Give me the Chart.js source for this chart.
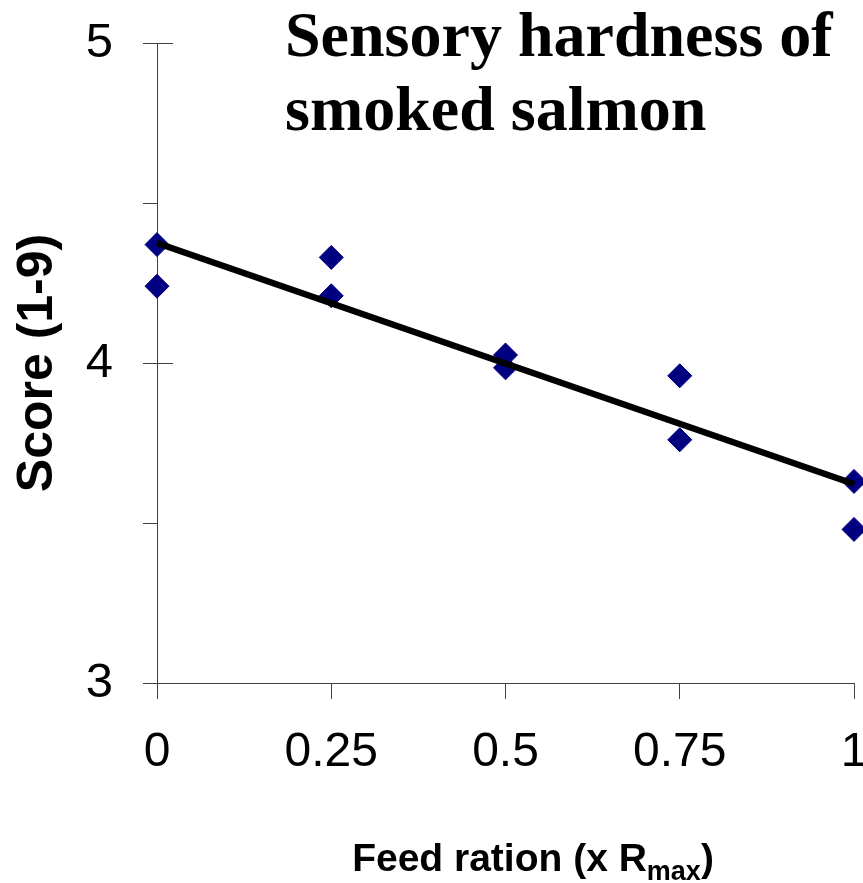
<!DOCTYPE html>
<html>
<head>
<meta charset="utf-8">
<script src="https://cdn.jsdelivr.net/npm/chart.js@4"></script>
<style>
  body { margin: 0; background: #fff; }
  #wrap { width: 863px; height: 883px; }
</style>
</head>
<body>
<div id="wrap"><canvas id="chart" width="863" height="883"></canvas></div>
<script>
// feed ration (x Rmax) and sensory hardness score
const feedRation = [0, 0, 0.25, 0.25, 0.5, 0.5, 0.75, 0.75, 1, 1];
const hardnessScore = [4.37, 4.24, 4.33, 4.21, 4.025, 3.985, 3.96, 3.76, 3.63, 3.48];

// fitted line end points
const trendX = [0, 1];
const trendY = [4.375, 3.622];

const xTicks = [0, 0.25, 0.5, 0.75, 1];
const xTickLabels = ['0', '0.25', '0.5', '0.75', '1'];
const yTicks = [3, 3.5, 4, 4.5, 5];
const yLabelled = [3, 4, 5];

const titleLines = ['Sensory hardness of', 'smoked salmon'];
const yTitle = 'Score (1-9)';

const sans = "'Liberation Sans', Arial, sans-serif";
const serif = "'Liberation Serif', 'Times New Roman', serif";
const axisColor = '#404040';

const points = feedRation.map((x, i) => ({ x: x, y: hardnessScore[i] }));
const trend = trendX.map((x, i) => ({ x: x, y: trendY[i] }));

// title inside the plot, x title with subscript, and the inner half of major y ticks
const extras = {
  id: 'extras',
  afterDraw(chart) {
    const ctx = chart.ctx;
    const y = chart.scales.y;
    ctx.save();
    ctx.strokeStyle = axisColor;
    ctx.lineWidth = 1;
    yLabelled.forEach(v => {
      const py = Math.round(y.getPixelForValue(v)) + 0.5;
      ctx.beginPath();
      ctx.moveTo(chart.chartArea.left, py);
      ctx.lineTo(chart.chartArea.left + 16, py);
      ctx.stroke();
    });

    ctx.fillStyle = '#000';
    ctx.textAlign = 'left';
    ctx.textBaseline = 'alphabetic';
    ctx.font = 'bold 64px ' + serif;
    ctx.fillText(titleLines[0], 285, 56);
    ctx.fillText(titleLines[1], 285, 130);

    // "Feed ration (x R" + subscript "max" + ")"
    const big = 'bold 39px ' + sans;
    const small = 'bold 27px ' + sans;
    const a = 'Feed ration (x R', b = 'max', c = ')';
    ctx.font = big; const wa = ctx.measureText(a).width; const wc = ctx.measureText(c).width;
    ctx.font = small; const wb = ctx.measureText(b).width;
    let x0 = 533 - (wa + wb + wc) / 2;
    const base = 871;
    ctx.font = big; ctx.fillText(a, x0, base);
    ctx.font = small; ctx.fillText(b, x0 + wa, base + 9);
    ctx.font = big; ctx.fillText(c, x0 + wa + wb, base);
    ctx.restore();
  }
};

new Chart(document.getElementById('chart'), {
  type: 'scatter',
  data: {
    datasets: [
      {
        type: 'line',
        data: trend,
        borderColor: '#000',
        borderWidth: 6.5,
        pointRadius: 0,
        fill: false,
        clip: false
      },
      {
        data: points,
        pointStyle: 'rectRot',
        pointRadius: 12,
        pointHoverRadius: 12,
        backgroundColor: '#000080',
        borderColor: '#000080',
        borderWidth: 1,
        clip: false
      }
    ]
  },
  options: {
    responsive: false,
    animation: false,
    layout: { autoPadding: false, padding: { top: 43, right: 9, bottom: 0, left: 0 } },
    plugins: {
      legend: { display: false },
      tooltip: { enabled: false },
      title: { display: false }
    },
    scales: {
      x: {
        type: 'linear',
        min: 0,
        max: 1,
        afterBuildTicks: s => { s.ticks = xTicks.map(v => ({ value: v })); },
        afterFit: s => { s.height = 200; s.paddingLeft = 0; s.paddingRight = 0; },
        border: { color: axisColor, width: 1 },
        grid: { drawOnChartArea: false, drawTicks: true, tickLength: 16, color: axisColor },
        ticks: {
          autoSkip: false,
          maxRotation: 0,
          padding: 25,
          color: '#000',
          font: { family: sans, size: 48 },
          callback: v => xTickLabels[xTicks.indexOf(v)]
        }
      },
      y: {
        type: 'linear',
        min: 3,
        max: 5,
        afterBuildTicks: s => { s.ticks = yTicks.map(v => ({ value: v })); },
        afterFit: s => { s.width = 157; s.paddingTop = 0; s.paddingBottom = 0; },
        border: { color: axisColor, width: 1 },
        grid: { drawOnChartArea: false, drawTicks: true, tickLength: 14, color: axisColor },
        ticks: {
          autoSkip: false,
          padding: 30,
          color: '#000',
          font: { family: sans, size: 49 },
          callback: v => (yLabelled.includes(v) ? String(v) : '')
        },
        title: {
          display: true,
          text: yTitle,
          color: '#000',
          padding: { top: 8, bottom: 0 },
          font: { family: sans, size: 50, weight: 'bold' }
        }
      }
    }
  },
  plugins: [extras]
});
</script>
</body>
</html>
